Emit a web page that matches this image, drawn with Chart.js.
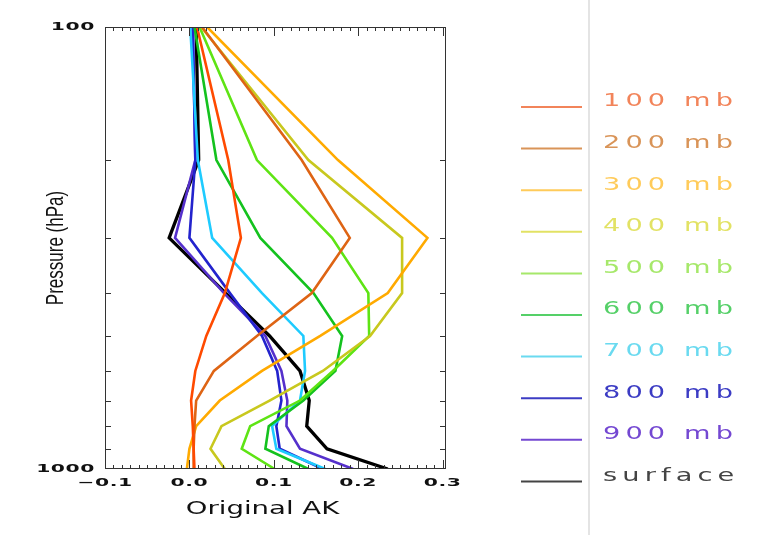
<!DOCTYPE html>
<html>
<head>
	<title>AveragingKernels</title>
	<style>
		body { margin: 0; background: #fff; }
		#wrap { width: 760px; height: 535px; }
	</style>
	<script src="https://cdn.jsdelivr.net/npm/chart.js"></script>
</head>
<body>
	<div id="wrap"><canvas id="akChart" width="760" height="535"></canvas></div>

	<script>
		// pressure levels (hPa) where each kernel row is given
		const levels = [100, 200, 300, 400, 500, 600, 700, 800, 900, 1000];

		// averaging kernel rows
		const ak100  = [0.009, 0.046, 0.061, 0.042, 0.020, 0.007, 0.002, 0.004, 0.005, 0.006];
		const ak200  = [0.015, 0.133, 0.190, 0.145, 0.080, 0.029, 0.008, 0.006, 0.005, 0.005];
		const ak300  = [0.021, 0.176, 0.282, 0.235, 0.155, 0.086, 0.036, 0.008, 0.000, -0.003];
		const ak400  = [0.014, 0.141, 0.252, 0.252, 0.214, 0.158, 0.095, 0.038, 0.025, 0.042];
		const ak500  = [0.012, 0.080, 0.169, 0.212, 0.213, 0.170, 0.131, 0.072, 0.062, 0.101];
		const ak600  = [0.006, 0.032, 0.084, 0.147, 0.181, 0.173, 0.135, 0.094, 0.090, 0.141];
		const ak700  = [0.001, 0.010, 0.027, 0.086, 0.135, 0.137, 0.131, 0.098, 0.103, 0.161];
		const ak800  = [0.004, 0.007, 0.000, 0.048, 0.086, 0.104, 0.109, 0.103, 0.107, 0.158];
		const ak900  = [0.004, 0.007, -0.017, 0.041, 0.090, 0.109, 0.116, 0.115, 0.131, 0.194];
		const akSurf = [0.008, 0.011, -0.024, 0.043, 0.095, 0.131, 0.142, 0.139, 0.163, 0.235];

		const seriesNames = ['100 mb', '200 mb', '300 mb', '400 mb', '500 mb', '600 mb', '700 mb', '800 mb', '900 mb', 'surface'];
		const seriesData = [ak100, ak200, ak300, ak400, ak500, ak600, ak700, ak800, ak900, akSurf];

		const xTicks = [-0.1, 0.0, 0.1, 0.2, 0.3];
		const yLabels = [100, 1000];
		const yMinor = [200, 300, 400, 500, 600, 700, 800, 900];

		const lineColors = ['#ff4a00', '#de6414', '#ffaa00', '#c8c81e', '#5ee414', '#14c21e', '#1ecbff', '#2323cd', '#5530cc', '#000000'];
		const keyColors  = ['#f2845a', '#d99458', '#ffcb5a', '#e2e264', '#a6e86a', '#55d068', '#6adaf0', '#3c3cc4', '#7448d2', '#444444'];

		function stretchText(ctx, str, x, y, font, sx, spacing, align, color) {
			ctx.save();
			ctx.font = font;
			ctx.letterSpacing = spacing + 'px';
			ctx.fillStyle = color;
			ctx.textBaseline = 'middle';
			ctx.textAlign = 'left';
			const w = ctx.measureText(str).width;
			ctx.translate(x, y);
			ctx.scale(sx, 1);
			let dx = 0;
			if (align === 'center') dx = -w / 2;
			if (align === 'right') dx = -w;
			ctx.fillText(str, dx, 0);
			ctx.restore();
		}

		const framePlugin = {
			id: 'frame',
			afterDatasetsDraw(chart) {
				const ctx = chart.ctx;
				const a = chart.chartArea;
				const x = chart.scales.x, y = chart.scales.y;
				ctx.save();
				ctx.strokeStyle = '#333';
				ctx.lineWidth = 1;
				ctx.strokeRect(a.left + 0.5, a.top + 0.5, a.right - a.left - 1, a.bottom - a.top - 1);
				ctx.beginPath();
				for (let i = 0; i <= 40; i++) {
					const px = Math.round(x.getPixelForValue(-0.1 + i * 0.01)) + 0.5;
					const len = (i % 10 === 0) ? 9 : 4;
					ctx.moveTo(px, a.bottom); ctx.lineTo(px, a.bottom - len);
					ctx.moveTo(px, a.top); ctx.lineTo(px, a.top + len);
				}
				yMinor.forEach(p => {
					const py = Math.round(y.getPixelForValue(p)) + 0.5;
					ctx.moveTo(a.left, py); ctx.lineTo(a.left + 6, py);
					ctx.moveTo(a.right, py); ctx.lineTo(a.right - 6, py);
				});
				ctx.stroke();
				ctx.restore();

				const tickFont = 'bold 11px "DejaVu Sans"';
				xTicks.forEach(v => {
					const s = (v < 0 ? '\u2212' : '') + Math.abs(v).toFixed(1);
					stretchText(ctx, s, x.getPixelForValue(v), a.bottom + 14, tickFont, 1.85, 0.3, 'center', '#111');
				});
				yLabels.forEach(p => {
					stretchText(ctx, String(p), a.left - 10, y.getPixelForValue(p), tickFont, 1.85, 0.3, 'right', '#111');
				});
				stretchText(ctx, 'Original AK', (a.left + a.right) / 2 - 13, a.bottom + 41, '17px "DejaVu Sans"', 1.62, 0, 'center', '#111');

				// rotated y title
				ctx.save();
				ctx.translate(56, (a.top + a.bottom) / 2);
				ctx.scale(1.45, 1);
				ctx.rotate(-Math.PI / 2);
				ctx.font = '17px "Liberation Sans", Arial';
				ctx.fillStyle = '#111';
				ctx.textAlign = 'center';
				ctx.textBaseline = 'middle';
				ctx.fillText('Pressure (hPa)', 0, 0);
				ctx.restore();

				// key on the right
				ctx.save();
				ctx.strokeStyle = '#e4e4e4';
				ctx.lineWidth = 2;
				ctx.beginPath(); ctx.moveTo(589, 0); ctx.lineTo(589, 535); ctx.stroke();
				chart.data.datasets.forEach((ds, i) => {
					const ly = 107 + i * 41.6;
					ctx.strokeStyle = keyColors[i];
					ctx.lineWidth = 2;
					ctx.beginPath(); ctx.moveTo(521, ly); ctx.lineTo(582, ly); ctx.stroke();
					stretchText(ctx, ds.label, 603, ly - 5, '17px "DejaVu Sans"', 1.6, 3.2, 'left', keyColors[i]);
				});
				ctx.restore();
			}
		};

		const datasets = seriesData.map((vals, i) => ({
			label: seriesNames[i],
			data: vals.map((v, j) => ({ x: v, y: levels[j] })),
			borderColor: lineColors[i],
			borderWidth: i === 9 ? 3.3 : 2.6,
			showLine: true,
			pointRadius: 0,
			fill: false,
			tension: 0
		}));

		new Chart(document.getElementById('akChart').getContext('2d'), {
			type: 'scatter',
			data: { datasets: datasets },
			options: {
				responsive: false,
				animation: false,
				layout: { padding: { left: 105, right: 314, top: 27, bottom: 66 } },
				plugins: { legend: { display: false }, tooltip: { enabled: false } },
				scales: {
					x: { type: 'linear', display: false, min: -0.1, max: 0.304 },
					y: { type: 'logarithmic', display: false, min: 100, max: 1000, reverse: true }
				}
			},
			plugins: [framePlugin]
		});
	</script>
</body>
</html>
